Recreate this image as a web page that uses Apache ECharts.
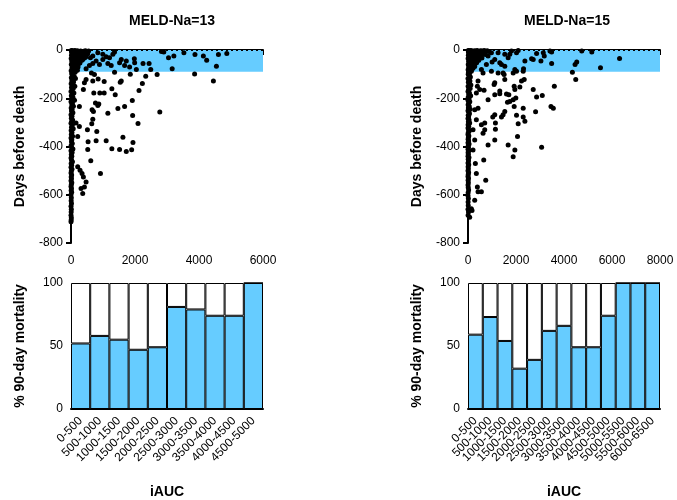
<!DOCTYPE html>
<html><head><meta charset="utf-8">
<script src="https://cdn.jsdelivr.net/npm/echarts@6/dist/echarts.min.js"></script>
<style>html,body{margin:0;padding:0;background:#fff}#c{width:677px;height:500px}</style>
</head><body><div id="c"></div>
<script>
var titles = ['MELD-Na=13', 'MELD-Na=15'];
var bandDays = -90;
// MELD-Na=13 scatter: [iAUC, days before death]
var scatter13 = [
[2827,-6],[2900,-8],[3047,-32],[3214,-25],[3528,-11],[3874,-19],[4136,-25],[4240,-42],[4607,-19],[4869,-14],
[4544,-67],[4450,-128],[3863,-99],[3162,-78],[2691,-102],[2492,-81],[2440,-56],[2251,-56],[2335,-109],[2230,-139],
[2125,-168],[1916,-209],[2775,-257],[1926,-271],[2094,-305],[1937,-383],[1895,-413],[1728,-421],[1623,-362],[1518,-412],
[1277,-409],[1099,-376],[921,-512],[785,-376],[534,-380],[523,-412],[618,-459],[513,-331],[806,-338],[649,-306],
[681,-287],[660,-248],[701,-255],[1152,-262],[1466,-243],[1675,-234],[838,-230],[869,-224],[764,-220],[900,-178],
[1037,-178],[712,-178],[1382,-185],[1277,-161],[1571,-129],[1539,-134],[1037,-131],[848,-120],[681,-129],[471,-122],
[419,-136],[387,-164],[639,-95],[733,-102],[1361,-92],[1853,-100],[2042,-81],[1989,-53],[1979,-36],[1728,-46],
[1675,-64],[1832,-70],[1518,-53],[1571,-39],[1204,-32],[1152,-56],[1099,-28],[995,-39],[890,-60],[785,-46],
[681,-56],[576,-64],[471,-78],[1256,-64],[1309,-18],[1361,-8],[995,-18],[838,-11],[681,-25],[607,-32],
[366,-39],[345,-512],[387,-526],[471,-547],[419,-568],[314,-574],[366,-595],[262,-317],[209,-359],[157,-303],
[262,-234],[209,-484],[283,-498],
[10,-2],[30,-4],[50,-3],[80,-6],[120,-2],[150,-5],[200,-3],[250,-6],[300,-4],[350,-8],[400,-5],[450,-3],[500,-7],[550,-4],
[20,-10],[60,-12],[100,-14],[140,-10],[180,-15],[230,-12],[280,-16],[330,-13],[380,-18],[430,-14],[480,-20],[520,-16],
[15,-22],[45,-25],[90,-20],[130,-28],[170,-24],[210,-30],[260,-26],[310,-30],[360,-27],[420,-33],[460,-29],
[5,-35],[35,-38],[70,-34],[110,-40],[160,-37],[200,-44],[240,-40],[290,-45],[340,-42],[25,-48],[60,-52],[100,-50],
[140,-55],[190,-50],[230,-58],[280,-54],[10,-60],[40,-64],[80,-62],[120,-68],[170,-66],[220,-70],[30,-75],[70,-78],
[110,-80],[150,-76],[200,-84],[5,-86],[50,-90],[90,-88],[130,-92],
[20,-98],[60,-105],[100,-110],[10,-115],[45,-120],[140,-118],[25,-128],[80,-133],[5,-140],[50,-145],[120,-150],[15,-155],
[70,-160],[30,-168],[0,-172],[90,-178],[40,-185],[10,-190],[60,-196],[20,-203],[110,-208],[0,-214],[45,-220],[25,-228],
[75,-233],[5,-240],[35,-247],[15,-253],[60,-260],[0,-268],[30,-275],[10,-283],[50,-290],[20,-296],[0,-304],[40,-312],
[15,-320],[70,-326],[5,-334],[30,-342],[10,-350],[50,-357],[0,-365],[25,-372],[15,-380],[40,-388],[5,-396],[20,-404],
[60,-410],[0,-418],[35,-425],[10,-433],[25,-440],[0,-448],[15,-456],[45,-463],[5,-470],[20,-478],[0,-486],[30,-494],
[10,-502],[0,-510],[20,-518],[5,-526],[15,-534],[0,-542],[25,-550],[10,-558],[0,-566],[15,-574],[5,-582],[20,-590],
[0,-600],[10,-612],[5,-625],[15,-636],[0,-648],[10,-660],[5,-672],[0,-685],[10,-695],[5,-705],[0,-712]
];
// MELD-Na=15 scatter
var scatter15 = [
[6315,-35],[5520,-74],[5158,-8],[4740,-4],[4531,-50],[4461,-60],[4349,-92],[4489,-122],[3597,-150],[3485,-56],
[3485,-8],[3415,-4],[3178,-25],[3039,-46],[2858,-14],[2718,-39],[2649,-36],[3137,-11],[3095,-189],[2858,-195],
[2718,-164],[2816,-256],[3457,-234],[3555,-241],[3067,-403],[2342,-122],[2300,-88],[2230,-129],[2161,-153],[2370,-46],
[2314,-78],[2021,-88],[1952,-81],[1882,-95],[1924,-150],[1952,-164],[1993,-199],[1882,-206],[1742,-213],[1645,-217],
[1701,-185],[1924,-234],[2300,-241],[2021,-270],[2300,-278],[2370,-295],[2091,-306],[2063,-359],[1952,-415],[1882,-442],
[1673,-394],[1533,-255],[1463,-268],[1394,-278],[1115,-268],[1032,-278],[1143,-303],[1143,-328],[1115,-373],[836,-394],
[655,-456],[739,-540],[558,-588],[697,-303],[697,-331],[627,-345],[558,-310],[836,-206],[1115,-185],[1324,-181],
[1603,-182],[1324,-170],[1115,-136],[1087,-143],[1533,-122],[1505,-102],[1463,-95],[1254,-95],[976,-88],[1004,-50],
[1115,-39],[1324,-53],[1394,-60],[1533,-67],[1673,-32],[1742,-18],[2021,-11],[2091,-2],[1812,-4],[1533,-18],
[1254,-11],[976,-11],[836,-25],[766,-60],[627,-95],[558,-81],[418,-129],[390,-150],[488,-164],[669,-167],
[348,-178],[279,-248],[418,-241],[348,-289],[209,-331],[279,-373],[209,-415],[307,-470],[348,-512],[390,-568],
[418,-588],[279,-623],[139,-658],[70,-693],[167,-665],
[10,-2],[40,-3],[80,-5],[120,-2],[170,-4],[220,-6],[270,-3],[320,-5],[380,-2],[430,-7],[490,-4],[550,-3],[610,-6],[670,-2],
[730,-5],[800,-3],[870,-6],[20,-10],[60,-12],[110,-9],[160,-14],[210,-11],[260,-15],[310,-12],[360,-16],[420,-13],
[480,-17],[540,-14],[600,-18],[660,-15],[720,-19],[15,-22],[55,-24],[95,-21],[140,-26],[190,-23],[240,-28],[290,-25],
[340,-30],[400,-27],[460,-31],[520,-28],[580,-33],[5,-35],[45,-37],[85,-39],[130,-36],[175,-41],[225,-38],[275,-43],
[330,-40],[390,-45],[450,-42],[25,-48],[65,-50],[105,-52],[150,-49],[200,-54],[250,-51],[300,-56],[360,-53],[10,-60],
[50,-62],[90,-64],[135,-61],[180,-66],[230,-63],[280,-68],[30,-72],[70,-75],[115,-73],[160,-78],[210,-76],[5,-82],
[45,-85],[90,-84],[140,-88],[20,-92],[65,-95],
[10,-100],[50,-106],[100,-112],[0,-118],[35,-124],[80,-128],[15,-134],[55,-140],[120,-145],[5,-150],[40,-156],[90,-160],
[20,-166],[0,-172],[60,-178],[30,-184],[110,-190],[10,-196],[45,-202],[0,-208],[75,-214],[25,-220],[5,-227],[50,-233],
[15,-240],[90,-246],[0,-252],[35,-258],[60,-264],[10,-270],[25,-277],[0,-284],[45,-290],[15,-297],[70,-303],[5,-310],
[30,-316],[0,-323],[20,-330],[50,-336],[10,-343],[0,-350],[35,-356],[15,-363],[5,-370],[25,-377],[0,-384],[45,-390],
[10,-397],[20,-404],[0,-411],[30,-418],[5,-425],[15,-432],[0,-440],[40,-446],[10,-453],[20,-460],[0,-468],[30,-476],
[5,-484],[15,-492],[0,-500],[25,-508],[10,-516],[0,-524],[20,-532],[5,-540],[15,-550],[0,-560],[10,-570],[25,-580],
[5,-592],[0,-604],[15,-616],[5,-630],[10,-645],[0,-660],[20,-672],[5,-685]
];
var bins13 = ['0-500','500-1000','1000-1500','1500-2000','2000-2500','2500-3000','3000-3500','3500-4000','4000-4500','4500-5000'];
var mort13 = [52, 58, 55, 47, 49, 81, 79, 74, 74, 100];
var bins15 = ['0-500','500-1000','1000-1500','1500-2000','2000-2500','2500-3000','3000-3500','3500-4000','4000-4500','4500-5000','5000-5500','5500-6000','6000-6500'];
var mort15 = [59, 73, 54, 32, 39, 62, 66, 49, 49, 74, 100, 100, 100];

var BLUE = '#66CCFF';
var font = 'Liberation Sans, Arial, sans-serif';
var axLine = {lineStyle: {color: '#000', width: 2}};
var axTick = {length: 5, lineStyle: {color: '#000', width: 2}};
var lbl = {color: '#000', fontSize: 12, fontFamily: font};
var nameStyle = {color: '#000', fontSize: 14, fontWeight: 'bold', fontFamily: font};
function plain(v) { return String(v); }

function sx(idx, max) {
  return {gridIndex: idx, type: 'value', min: 0, max: max, interval: 2000, axisLine: axLine, axisTick: axTick,
    axisLabel: Object.assign({margin: 12, formatter: plain}, lbl), splitLine: {show: false}};
}
function sy(idx) {
  return {gridIndex: idx, type: 'value', min: -800, max: 0, interval: 200, axisLine: axLine, axisTick: axTick,
    axisLabel: Object.assign({margin: 8, formatter: plain}, lbl), splitLine: {show: false},
    name: 'Days before death', nameLocation: 'middle', nameGap: 44, nameTextStyle: nameStyle};
}
function bx(idx, cats) {
  return {gridIndex: idx, type: 'category', data: cats, axisLine: axLine,
    axisTick: {alignWithLabel: true, interval: 0, length: 6, lineStyle: {color: '#000', width: 2}},
    axisLabel: Object.assign({}, lbl, {rotate: 45, interval: 0, fontSize: 12, margin: 10}),
    name: 'iAUC', nameLocation: 'middle', nameGap: 76, nameTextStyle: nameStyle};
}
function by(idx) {
  return {gridIndex: idx, type: 'value', min: 0, max: 100, interval: 50, axisLine: axLine, axisTick: axTick,
    axisLabel: Object.assign({margin: 8}, lbl), splitLine: {show: false},
    name: '% 90-day mortality', nameLocation: 'middle', nameGap: 44, nameTextStyle: nameStyle};
}
function bandSeries(idx) {
  return {type: 'scatter', xAxisIndex: idx, yAxisIndex: idx, data: [], z: 1, silent: true,
    markArea: {silent: true, itemStyle: {color: BLUE}, data: [[{yAxis: 0}, {yAxis: bandDays}]]},
    markLine: {silent: true, symbol: 'none', label: {show: false},
      lineStyle: {color: '#000', type: [2, 3], width: 2}, data: [{yAxis: 0}]}};
}
function pts(idx, data) {
  return {type: 'scatter', xAxisIndex: idx, yAxisIndex: idx, data: data, z: 3, symbolSize: 5,
    itemStyle: {color: '#000', opacity: 1}};
}
function bars(idx, vals) {
  var rest = vals.map(function (v) { return 100 - v; });
  return [
    {type: 'bar', xAxisIndex: idx, yAxisIndex: idx, stack: 's' + idx, data: vals, barCategoryGap: '0%',
      itemStyle: {color: BLUE, borderColor: '#000', borderWidth: 1}},
    {type: 'bar', xAxisIndex: idx, yAxisIndex: idx, stack: 's' + idx, data: rest, barCategoryGap: '0%',
      itemStyle: {color: '#fff', borderColor: '#000', borderWidth: 1}}
  ];
}

var chart = echarts.init(document.getElementById('c'), null, {renderer: 'canvas'});
chart.setOption({
  animation: false,
  backgroundColor: '#fff',
  title: [
    {text: titles[0], left: 167, top: 9, textAlign: 'center', textStyle: {fontSize: 14, fontWeight: 'bold', color: '#000', fontFamily: font}},
    {text: titles[1], left: 562, top: 9, textAlign: 'center', textStyle: {fontSize: 14, fontWeight: 'bold', color: '#000', fontFamily: font}}
  ],
  grid: [
    {left: 71, top: 50, width: 192, height: 193},
    {left: 468, top: 50, width: 192, height: 193},
    {left: 71, top: 283, width: 192, height: 126},
    {left: 468, top: 283, width: 192, height: 126}
  ],
  xAxis: [sx(0, 6000), sx(1, 8000), bx(2, bins13), bx(3, bins15)],
  yAxis: [sy(0), sy(1), by(2), by(3)],
  series: [bandSeries(0), pts(0, scatter13), bandSeries(1), pts(1, scatter15)]
    .concat(bars(2, mort13)).concat(bars(3, mort15))
});
</script></body></html>
